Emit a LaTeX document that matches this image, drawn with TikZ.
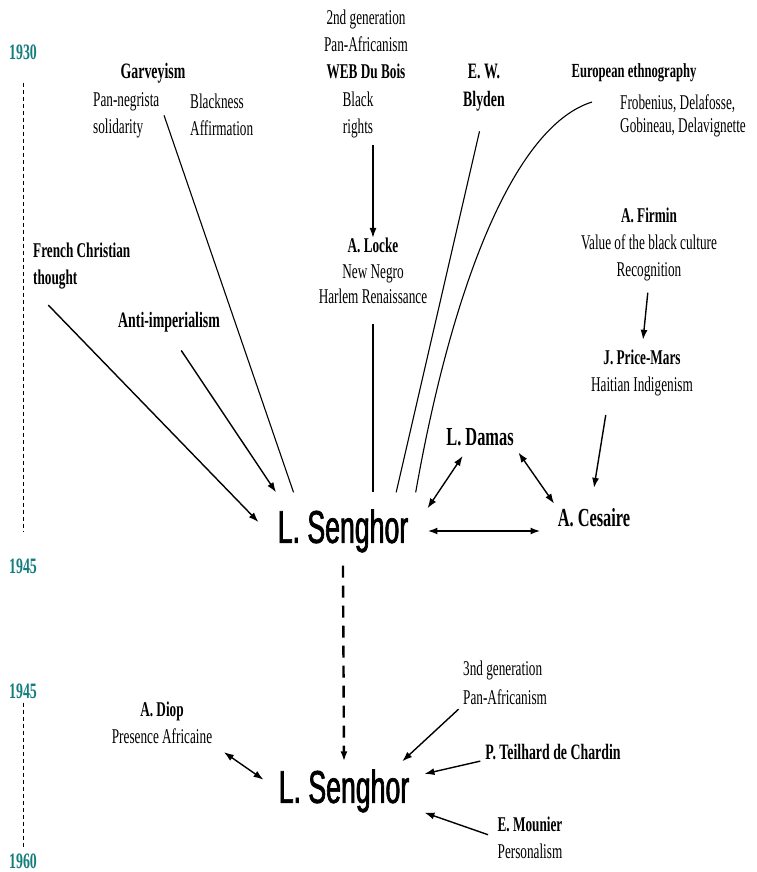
\documentclass[tikz,border=0pt]{standalone}
\usepackage{fontspec}
\newfontfamily\labfont[FakeStretch=0.63]{Liberation Serif}
\newfontfamily\namefont[FakeStretch=0.58,FakeBold=1.5]{Liberation Sans}
\usetikzlibrary{arrows.meta}
\definecolor{yearteal}{RGB}{20,125,125}
\tikzset{
  plain/.style={font=\labfont\fontsize{21}{27}\selectfont, inner sep=0pt, align=center},
  heading/.style={plain, font=\labfont\bfseries\fontsize{22}{28}\selectfont},
  year/.style={font=\labfont\bfseries\fontsize{22}{25}\selectfont, text=yearteal, inner sep=0pt},
  senghor/.style={font=\namefont\fontsize{46}{50}\selectfont},
  link/.style={line width=1.1pt},
  arr/.style={line width=1.4pt, -{Latex[length=10pt,width=7pt]}},
  dbl/.style={line width=1.4pt, {Latex[length=10pt,width=7pt]}-{Latex[length=10pt,width=7pt]}},
  timeline/.style={line width=0.9pt, dash pattern=on 4pt off 3pt},
}
\begin{document}
\begin{tikzpicture}[x=1pt,y=-1pt]
\useasboundingbox[fill=white] (0,0) rectangle (756,872);

\node[year] (y1930) at (23,52) {1930};
\node[year] (y1945a) at (23,566) {1945};
\node[year] (y1945b) at (23,691) {1945};
\node[year] (y1960) at (23,861) {1960};
\draw[timeline, shorten <=23pt, shorten >=27pt] (y1930.south) -- (y1945a.north);
\draw[timeline, shorten <=4pt, shorten >=6pt] (y1945b.south) -- (y1960.north);

\node[heading] (garvey) at (153,73) {Garveyism};
\node[plain, align=left, anchor=west] (negrista) at (93,115) {Pan-negrista\\solidarity};
\node[plain, align=left, anchor=west] (blackness) at (190,115) {Blackness\\Affirmation};
\node[plain] (dubois) at (366,44) {2nd generation\\Pan-Africanism\\\textbf{WEB Du Bois}};
\node[plain] (blackr) at (358,115) {Black\\rights};
\node[plain] (locke) at (373,271) {\textbf{A. Locke}\\[-1.5pt]New Negro\\[-1.5pt]Harlem Renaissance};
\node[heading] (blyden) at (484,88) {E. W.\\Blyden};
\node[heading, font=\labfont\bfseries\fontsize{20}{24}\selectfont] (ethno) at (634,73) {European ethnography};
\node[plain, align=left, anchor=west, font=\labfont\fontsize{21}{23}\selectfont] (ethnames) at (620,116) {Frobenius, Delafosse,\\Gobineau, Delavignette};
\node[heading, align=left, anchor=west, font=\labfont\bfseries\fontsize{21}{27}\selectfont] (christian) at (33,266) {French Christian\\thought};
\node[heading] (antiimp) at (169,322) {Anti-imperialism};
\node[plain] (firmin) at (649,244) {\textbf{A. Firmin}\\Value of the black culture\\Recognition};
\node[plain] (pricem) at (642,373) {\textbf{J. Price-Mars}\\Haitian Indigenism};
\node[heading, font=\labfont\bfseries\fontsize{26}{30}\selectfont] (damas) at (480,437) {L. Damas};
\node[heading, font=\labfont\bfseries\fontsize{26}{30}\selectfont] (cesaire) at (594,518) {A. Cesaire};
\node[senghor, inner xsep=19pt, inner ysep=17pt] (seng) at (343,531) {L. Senghor};
\node[senghor, inner xsep=15pt, inner ysep=8pt] (sengb) at (344,791) {L. Senghor};
\node[plain] (diop) at (162,723) {\textbf{A. Diop}\\Presence Africaine};
\node[plain, align=left, anchor=west, font=\labfont\fontsize{21}{29}\selectfont] (panafr) at (463,683) {3nd generation\\Pan-Africanism};
\node[heading] (teilhard) at (553,752) {P. Teilhard de Chardin};
\node[plain] (mounier) at (530,838) {\textbf{E. Mounier}\\Personalism};

\draw[link, shorten <=34pt] (garvey.south) -- (seng.142);
\draw[arr, shorten <=22pt] (christian.south west) -- (seng.174);
\draw[arr, shorten <=22pt] (antiimp.south) -- (seng.150);
\draw[arr, shorten <=7pt] (blackr.south -| locke) -- (locke.north);
\draw[link, shorten <=20pt] (locke.south) -- (locke.south |- seng.north);
\draw[link, shorten <=20pt] (blyden.south) -- (seng.36);
\draw[link] ([shift={(-28,-14)}]ethnames.west) .. controls +(-80,25) and +(35,-199) .. (seng.28);
\draw[arr, shorten <=12pt, shorten >=10pt] (firmin.south) -- (pricem.north);
\draw[arr, shorten <=19pt, shorten >=21pt] (pricem.215) -- (cesaire.110);
\draw[dbl, shorten >=12pt] (seng.15) -- (damas.220);
\draw[dbl, shorten <=8pt, shorten >=6pt] (damas.south east) -- (cesaire.north west);
\draw[dbl, line width=2.4pt, shorten >=17pt] (seng.east) -- (seng.east -| cesaire.west);
\draw[arr, line width=2.4pt, dash pattern=on 12pt off 8pt, shorten <=-4pt] (seng.south) -- (sengb.north);
\draw[dbl, shorten <=14pt] (diop.south east) -- (sengb.172);
\draw[arr, shorten <=6pt] (panafr.south west) -- (sengb.27);
\draw[arr, shorten <=5pt] (teilhard.south west) -- (sengb.12);
\draw[arr, shorten <=10pt] (mounier.west) -- (sengb.-15);
\end{tikzpicture}
\end{document}
